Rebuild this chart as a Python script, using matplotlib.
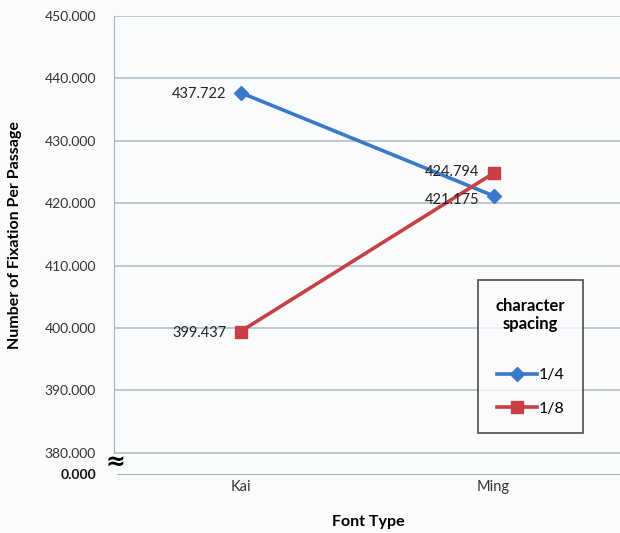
import matplotlib
matplotlib.use('Agg')
from matplotlib import pyplot as plt

plt.rcParams['font.family'] = ['Lato', 'DejaVu Sans']

# data
fonts = ['Kai', 'Ming']
spacing_quarter = [437.722, 421.175]
spacing_eighth = [399.437, 424.794]
series_names = ['1/4', '1/8']
yticks = [380, 390, 400, 410, 420, 430, 440, 450]

W, H = 620, 533
fig = plt.figure(figsize=(W / 100, H / 100), dpi=100, facecolor='#fafbfd')

# axes: left 114px, right 620px, top 16px (450), 380 at 453px, break line at 474px
y_low = 376.6
ax = fig.add_axes([114 / W, (H - 474) / H, (620 - 114) / W, (474 - 16) / H])
ax.set_facecolor('#fafbfd')
ax.set_xlim(-0.5, 1.5)
ax.set_ylim(y_low, 450)

for v in yticks:
    ax.axhline(v, color='#b4bfc9', lw=1.2, zorder=0)

ax.spines['top'].set_visible(False)
ax.spines['right'].set_visible(False)
ax.spines['left'].set_bounds(380, 450)
ax.spines['left'].set_color('#aab4bd')
ax.spines['bottom'].set_color('#aab4bd')
ax.spines['bottom'].set_bounds(-0.487, 1.5)

blue = '#3a78c8'
red = '#c83f45'
x = range(len(fonts))
ax.plot(x, spacing_quarter, color=blue, lw=2.6, marker='D', ms=7, label=series_names[0], zorder=3)
ax.plot(x, spacing_eighth, color=red, lw=2.6, marker='s', ms=9, label=series_names[1], zorder=3)

ax.set_xticks(list(x))
ax.set_xticklabels(fonts, fontsize=10.5, color='#333333')
ax.set_yticks(yticks + [y_low])
ax.set_yticklabels(['%.3f' % v for v in yticks] + ['0.000'], fontsize=10, color='#333333')
ax.tick_params(axis='y', length=0, pad=13)
ax.tick_params(axis='x', length=0, pad=4)
ax.get_yticklabels()[-1].set_color('#111111')
ax.get_yticklabels()[-1].set_fontweight('bold')
fig.text(115 / W, 1 - 462 / H, '≈', fontsize=17, fontweight='bold', ha='center', va='center',
         family='DejaVu Sans')

# data labels
for xi, v in zip(x, spacing_quarter):
    ax.annotate('%.3f' % v, (xi, v), xytext=(-10, -1 if xi == 0 else -3), textcoords='offset points',
                ha='right', va='center', fontsize=10.5, color='#222222')
for xi, v in zip(x, spacing_eighth):
    ax.annotate('%.3f' % v, (xi, v), xytext=(-10, -1 if xi == 0 else 1), textcoords='offset points',
                ha='right', va='center', fontsize=10.5, color='#222222')

fig.text(368 / W, 1 - 522 / H, 'Font Type', fontsize=11.5, fontweight='bold', ha='center', va='center')
fig.text(15 / W, 1 - 235 / H, 'Number of Fixation Per Passage', rotation=90, fontsize=11.5,
         fontweight='bold', ha='center', va='center')

leg = ax.legend(title='character\nspacing', loc='upper left',
                bbox_to_anchor=((478 - 114) / (620 - 114), 1 - (280 - 16) / 458),
                frameon=True, fancybox=False, fontsize=11.5, title_fontsize=12,
                borderpad=1.1, labelspacing=1.2, handlelength=2.5, handletextpad=0.1,
                borderaxespad=0)
leg.get_frame().set_edgecolor('#222222')
leg.get_frame().set_linewidth(1.2)
leg.get_frame().set_facecolor('#fafbfd')
leg.get_title().set_fontweight('bold')
leg.get_title().set_multialignment('center')
leg._legend_box.sep = 26

fig.savefig('out.png', dpi=100, facecolor=fig.get_facecolor())
